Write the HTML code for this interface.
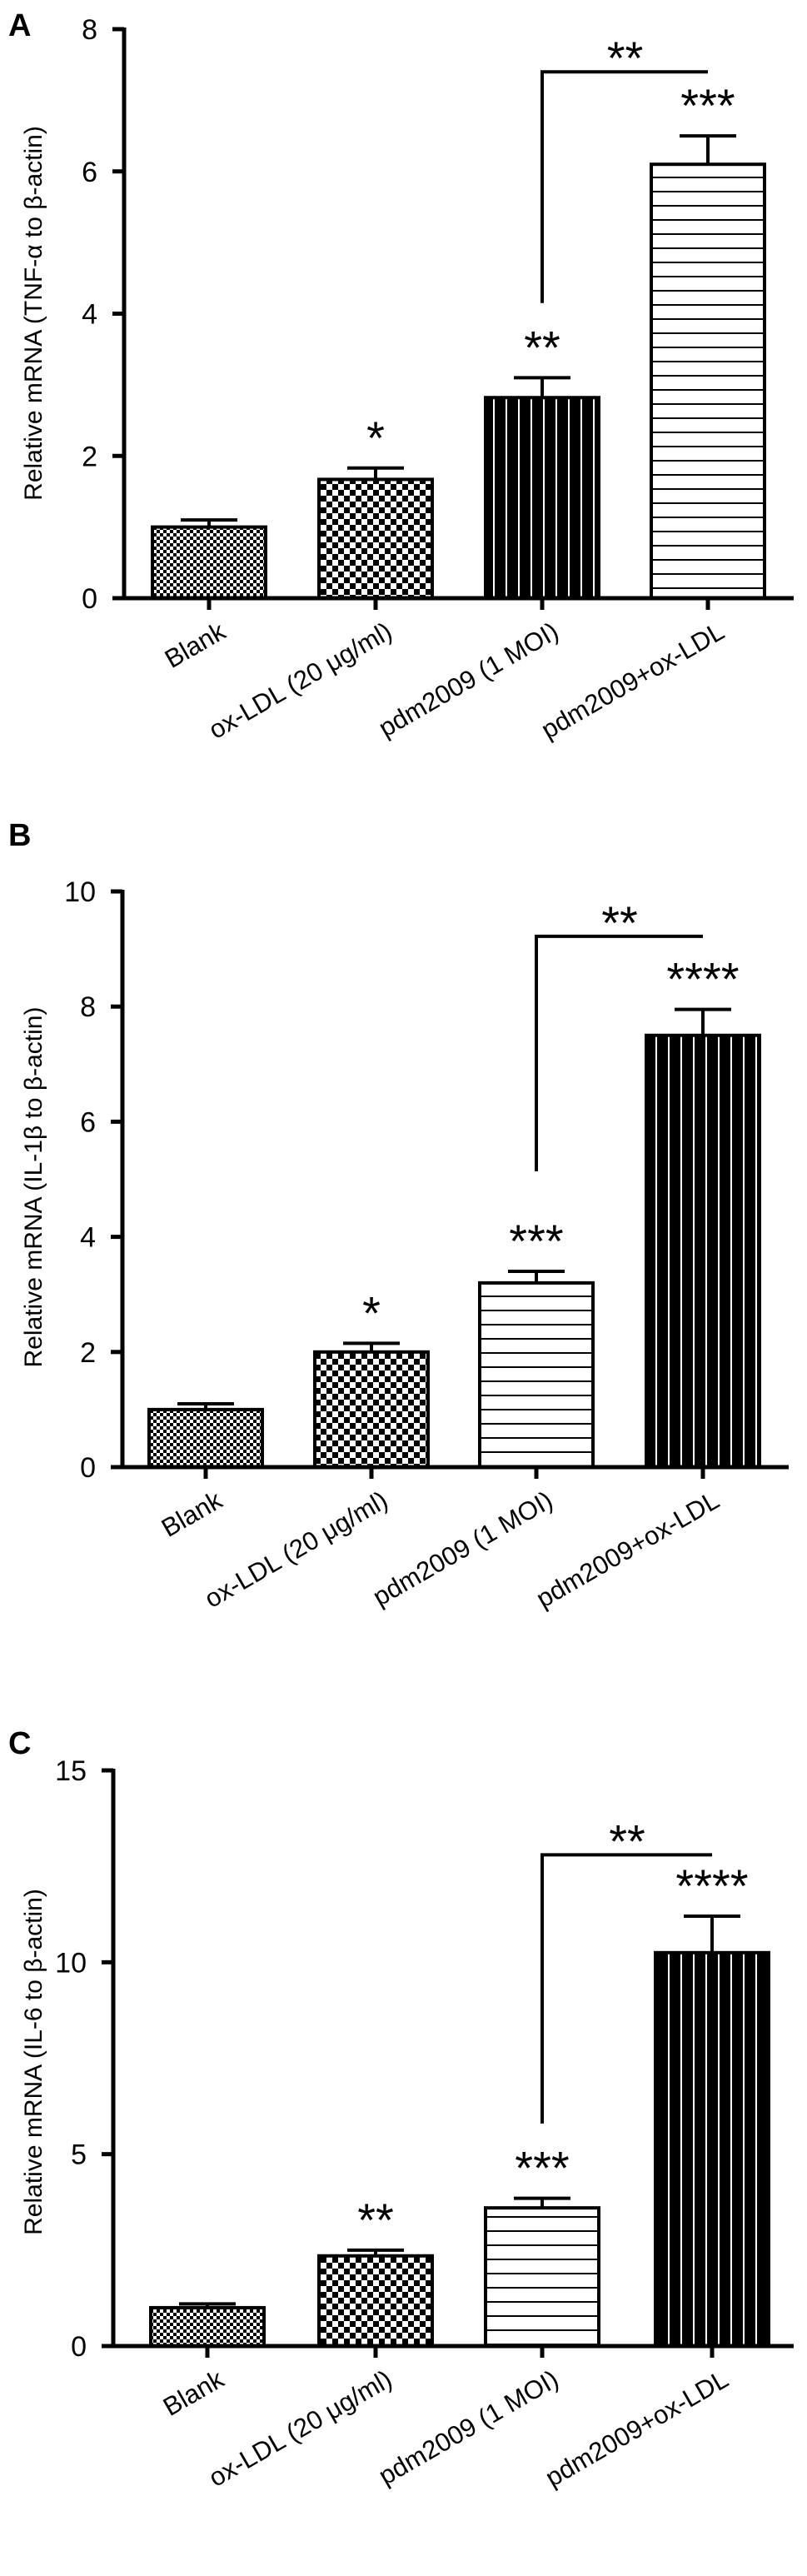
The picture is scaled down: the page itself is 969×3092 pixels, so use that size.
<!DOCTYPE html>
<html><head><meta charset="utf-8"><style>
html,body{margin:0;padding:0;background:#fff}
svg{display:block;font-family:"Liberation Sans",Arial,sans-serif}
</style></head><body>
<svg id="fig" width="969" height="3092" viewBox="0 0 969 3092" xmlns="http://www.w3.org/2000/svg">
<defs>
<pattern id="fine" patternUnits="userSpaceOnUse" width="8" height="8"><rect width="8" height="8" fill="#fff"/><rect width="4" height="4" fill="#000"/><rect x="4" y="4" width="4" height="4" fill="#000"/></pattern>
<pattern id="checker" patternUnits="userSpaceOnUse" width="14" height="14"><rect width="14" height="14" fill="#fff"/><rect width="7" height="7" fill="#000"/><rect x="7" y="7" width="7" height="7" fill="#000"/></pattern>
<pattern id="vlines" patternUnits="userSpaceOnUse" width="15" height="10"><rect width="15" height="10" fill="#000"/><rect x="7" width="2" height="10" fill="#fff"/></pattern>
<pattern id="hlines" patternUnits="userSpaceOnUse" width="10" height="17"><rect width="10" height="17" fill="#fff"/><rect y="8" width="10" height="2" fill="#000"/></pattern>
</defs>
</svg>
<script>
var categories = ["Blank", "ox-LDL (20 \u03bcg/ml)", "pdm2009 (1 MOI)", "pdm2009+ox-LDL"];
var valuesA = [1.0, 1.67, 2.82, 6.1];
var errorsA = [1.1, 1.83, 3.1, 6.5];
var starsA = ["", "*", "**", "***"];
var bracketA = [7.4, 4.15];
var ticksA = [0, 2, 4, 6, 8];
var valuesB = [1.0, 2.0, 3.2, 7.5];
var errorsB = [1.1, 2.15, 3.4, 7.95];
var starsB = ["", "*", "***", "****"];
var bracketB = [9.22, 5.14];
var ticksB = [0, 2, 4, 6, 8, 10];
var valuesC = [1.0, 2.35, 3.6, 10.25];
var errorsC = [1.1, 2.5, 3.85, 11.2];
var starsC = ["", "**", "***", "****"];
var bracketC = [12.8, 5.8];
var ticksC = [0, 5, 10, 15];

var NS = "http://www.w3.org/2000/svg";
var svg = document.getElementById("fig");
function mk(tag, attrs, parent, txt) {
  var e = document.createElementNS(NS, tag);
  for (var k in attrs) e.setAttribute(k, attrs[k]);
  if (txt !== undefined) e.textContent = txt;
  (parent || svg).appendChild(e);
  return e;
}

var panels = [
  {letter: "A", ly: 43, ax: 149, top: 35, zero: 718, xend: 953, max: 8,
   title: "Relative mRNA (TNF-\u03b1 to \u03b2-actin)", tcy: 376,
   vals: valuesA, errs: errorsA, stars: starsA, br: bracketA, ticks: ticksA,
   centers: [251, 451, 651, 850], fills: ["fine", "checker", "vlines", "hlines"]},
  {letter: "B", ly: 1015, ax: 147, top: 1070, zero: 1761, xend: 947, max: 10,
   title: "Relative mRNA (IL-1\u03b2 to \u03b2-actin)", tcy: 1425,
   vals: valuesB, errs: errorsB, stars: starsB, br: bracketB, ticks: ticksB,
   centers: [247, 446, 644, 844], fills: ["fine", "checker", "hlines", "vlines"]},
  {letter: "C", ly: 2105, ax: 136, top: 2125, zero: 2816, xend: 953, max: 15,
   title: "Relative mRNA (IL-6 to \u03b2-actin)", tcy: 2475,
   vals: valuesC, errs: errorsC, stars: starsC, br: bracketC, ticks: ticksC,
   centers: [249, 451, 651, 855], fills: ["fine", "checker", "hlines", "vlines"]}
];

panels.forEach(function (p) {
  var g = mk("g", {});
  
  
  function y(v) { return p.zero - (p.zero - p.top) * v / p.max; }
  var bw = 136;

  var lt = mk("text", {x: 10, y: p.ly, "font-size": 38, "font-weight": "bold"}, g, p.letter);
  
  

  var yt = mk("text", {x: 0, y: 0, "font-size": 30, "text-anchor": "middle",
    transform: "translate(50," + p.tcy + ") rotate(-90)"}, g, p.title);
  
  

  p.vals.forEach(function (v, i) {
    var cx = p.centers[i];
    var er = mk("g", {stroke: "#000", "stroke-width": 4}, g);
    
    
    mk("line", {x1: cx, x2: cx, y1: y(v), y2: y(p.errs[i])}, er);
    mk("line", {x1: cx - 34, x2: cx + 34, y1: y(p.errs[i]), y2: y(p.errs[i])}, er);
    var b = mk("rect", {x: cx - bw / 2, y: y(v), width: bw, height: p.zero - y(v),
      fill: "url(#" + p.fills[i] + ")", stroke: "#000", "stroke-width": 4}, g);
    
    
    if (p.stars[i]) {
      var st = mk("text", {x: cx, y: y(p.errs[i]) - 17, "font-size": 56, "text-anchor": "middle"}, g, p.stars[i]);
      
      
    }
  });

  var bx1 = p.centers[2], bx2 = p.centers[3];
  var br = mk("polyline", {points: bx1 + "," + y(p.br[1]) + " " + bx1 + "," + y(p.br[0]) + " " + bx2 + "," + y(p.br[0]),
    fill: "none", stroke: "#000", "stroke-width": 4}, g);
  
  
  var bs = mk("text", {x: (bx1 + bx2) / 2, y: y(p.br[0]) + 3, "font-size": 56, "text-anchor": "middle"}, g, "**");
  
  

  var yl = mk("line", {x1: p.ax, x2: p.ax, y1: p.top - 2, y2: p.zero + 2, stroke: "#000", "stroke-width": 5}, g);
  
  
  var xl = mk("line", {x1: p.ax - 14, x2: p.xend, y1: p.zero, y2: p.zero, stroke: "#000", "stroke-width": 5}, g);
  
  
  p.ticks.forEach(function (t) {
    mk("line", {x1: p.ax - 14, x2: p.ax, y1: y(t), y2: y(t), stroke: "#000", "stroke-width": 5}, g);
    var tl = mk("text", {x: p.ax - 32, y: y(t) + 12, "font-size": 34, "text-anchor": "end"}, g, String(t));
    
    
  });
  categories.forEach(function (c, i) {
    var cx = p.centers[i];
    mk("line", {x1: cx, x2: cx, y1: p.zero, y2: p.zero + 14, stroke: "#000", "stroke-width": 5}, g);
    var xt = mk("text", {x: 0, y: 0, "font-size": 31, "text-anchor": "end",
      transform: "translate(" + (cx + 22) + "," + (p.zero + 46) + ") rotate(-30)"}, g, c);
    
    
  });
});
</script>
</body></html>
